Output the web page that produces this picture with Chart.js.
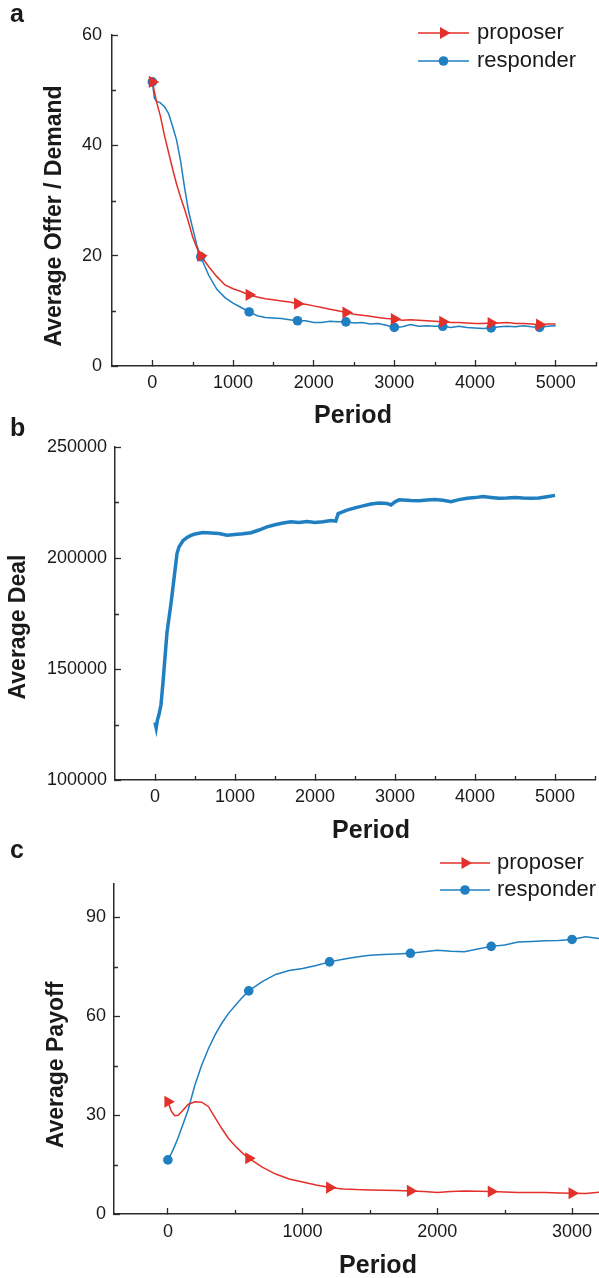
<!DOCTYPE html>
<html>
<head>
<meta charset="utf-8">
<title>Average offer / demand, deal and payoff</title>
<script src="https://cdn.jsdelivr.net/npm/chart.js@4.4.1/dist/chart.umd.min.js"></script>
<style>
  html, body { margin: 0; padding: 0; background: #fff; }
  #page { position: relative; width: 599px; height: 1278px; overflow: hidden; }
  #page canvas { position: absolute; left: 0; }
</style>
</head>
<body>
<div id="page">
  <canvas id="chartA" width="599" height="430" style="top:0px"></canvas>
  <canvas id="chartB" width="599" height="440" style="top:410px"></canvas>
  <canvas id="chartC" width="599" height="443" style="top:835px"></canvas>
</div>
<script>
const RED = '#e3302a';
const BLUE = '#1f7fc1';
const AXIS = '#2b2b2b';
const INK = '#1a1a1a';
const FONT = '"Liberation Sans", Arial, Helvetica, sans-serif';

// ===== Panel a: average offer / demand =====
const aPeriods = [0, 25, 50, 100, 150, 200, 250, 300, 350, 400, 450, 500, 550, 600,
  700, 800, 900, 1000, 1100, 1200, 1300, 1400, 1500, 1600, 1700, 1800, 1900, 2000,
  2100, 2200, 2300, 2400, 2500, 2600, 2700, 2800, 2900, 3000, 3100, 3200, 3300, 3400,
  3500, 3600, 3700, 3800, 3900, 4000, 4100, 4200, 4300, 4400, 4500, 4600, 4700, 4800, 4900, 5000];
const aProposer = [51.5, 49.8, 48.0, 45.3, 41.8, 38.8, 35.8, 33.0, 30.6, 28.4, 26.0, 23.4, 21.5, 20.0,
  18.0, 16.2, 14.7, 14.0, 13.5, 12.9, 12.5, 12.2, 12.0, 11.8, 11.6, 11.3, 11.2, 10.9,
  10.6, 10.3, 10.0, 9.7, 9.4, 9.2, 9.0, 8.8, 8.6, 8.5, 8.3, 8.4, 8.3, 8.2,
  8.1, 8.0, 7.9, 7.9, 7.8, 7.7, 7.7, 7.8, 7.8, 7.9, 7.7, 7.7, 7.6, 7.5, 7.6, 7.6];
const aResponder = [51.5, 48.6, 48.0, 47.7, 47.0, 45.8, 43.5, 41.0, 37.2, 32.3, 28.0, 25.0, 22.0, 19.8,
  16.4, 13.9, 12.4, 11.4, 10.6, 9.8, 9.1, 8.8, 8.7, 8.6, 8.4, 8.2, 8.2, 7.9,
  7.9, 8.1, 8.0, 8.0, 7.8, 7.9, 7.6, 7.7, 7.4, 7.0, 7.1, 7.5, 7.2, 7.3,
  7.2, 7.2, 7.0, 7.2, 7.0, 6.9, 6.8, 6.9, 7.1, 7.2, 7.1, 7.3, 7.1, 7.0, 7.2, 7.3];
const aXTicks = [0, 1000, 2000, 3000, 4000, 5000];
const aXMinor = [500, 1500, 2500, 3500, 4500, 5500];
const aYTicks = [0, 20, 40, 60];
const aYMinor = [10, 30, 50];

// ===== Panel b: average deal =====
const bPeriods = [0, 15, 30, 50, 75, 100, 150, 200, 250, 275, 300, 350, 400, 450, 500,
  600, 700, 800, 900, 1000, 1100, 1200, 1300, 1400, 1500, 1600, 1700, 1800, 1900, 2000,
  2100, 2200, 2260, 2290, 2400, 2500, 2600, 2700, 2800, 2900, 2950, 3000, 3050, 3100,
  3200, 3300, 3400, 3500, 3600, 3700, 3800, 3900, 4000, 4100, 4200, 4300, 4400, 4500,
  4600, 4700, 4800, 4900, 5000];
const bDeal = [126000, 123500, 127000, 129500, 134000, 144000, 166500, 179500, 194500, 202000, 205000, 207800, 209200, 210200, 210800,
  211500, 211300, 211000, 210300, 210600, 210900, 211400, 212600, 214000, 215000, 215800, 216300, 216000, 216400, 216000,
  216300, 216900, 216600, 220000, 221600, 222600, 223500, 224300, 224800, 224600, 223900, 225300, 226200, 226100,
  225900, 225800, 226100, 226300, 226000, 225400, 226300, 226900, 227200, 227700, 227300, 226900, 227000, 227200,
  227000, 226900, 227000, 227600, 228200];
const bXTicks = [0, 1000, 2000, 3000, 4000, 5000];
const bXMinor = [500, 1500, 2500, 3500, 4500, 5500];
const bYTicks = [100000, 150000, 200000, 250000];
const bYMinor = [125000, 175000, 225000];

// ===== Panel c: average payoff =====
const cPeriods = [0, 25, 50, 75, 100, 150, 200, 250, 300, 350, 400, 450, 500, 550, 600,
  700, 800, 900, 1000, 1100, 1200, 1300, 1400, 1500, 1600, 1700, 1800, 1900, 2000,
  2100, 2200, 2300, 2400, 2500, 2600, 2700, 2800, 2900, 3000, 3100, 3200];
const cProposer = [34.0, 31.2, 29.8, 29.9, 30.9, 33.2, 34.0, 33.9, 32.6, 29.2, 25.9, 22.9, 20.6, 18.6, 16.9,
  14.2, 12.1, 10.6, 9.7, 8.8, 8.0, 7.6, 7.4, 7.3, 7.2, 7.1, 7.0, 6.8, 6.5,
  6.8, 7.0, 6.9, 6.8, 6.7, 6.5, 6.5, 6.5, 6.4, 6.3, 6.2, 6.6];
const cResponder = [16.4, 18.3, 20.5, 23.0, 25.8, 31.5, 39.0, 45.0, 50.0, 54.3, 57.8, 60.8, 63.2, 65.5, 67.6,
  70.4, 72.6, 73.8, 74.4, 75.3, 76.4, 77.2, 77.9, 78.4, 78.6, 78.8, 79.0, 79.5, 79.9,
  79.6, 79.5, 80.3, 81.1, 81.5, 82.4, 82.6, 82.8, 82.9, 83.2, 84.0, 83.5];
const cXTicks = [0, 1000, 2000, 3000];
const cXMinor = [500, 1500, 2500];
const cYTicks = [0, 30, 60, 90];
const cYMinor = [15, 45, 75];

const MARKER_EVERY = 600;

function pts(xs, ys) {
  return xs.map((x, i) => ({ x: x, y: ys[i] }));
}

// markers only every 600 periods, like the original plot
function markerRadius(r) {
  return ctx => (ctx.raw && ctx.raw.x % MARKER_EVERY === 0) ? r : 0;
}

function proposerSet(xs, ys) {
  return {
    label: 'proposer', data: pts(xs, ys),
    borderColor: RED, backgroundColor: RED, borderWidth: 1.5,
    pointStyle: 'triangle', pointRotation: 90, legendRadius: 7,
    pointRadius: markerRadius(7), pointBackgroundColor: RED, pointBorderWidth: 0,
    tension: 0
  };
}

function responderSet(xs, ys) {
  return {
    label: 'responder', data: pts(xs, ys),
    borderColor: BLUE, backgroundColor: BLUE, borderWidth: 1.5,
    pointStyle: 'circle', pointRotation: 0, legendRadius: 4.8,
    pointRadius: markerRadius(4.8), pointBackgroundColor: BLUE, pointBorderWidth: 0,
    tension: 0
  };
}

// short inward minor ticks
const minorTicks = {
  id: 'minorTicks',
  afterDraw(chart, args, opts) {
    const { ctx, chartArea } = chart;
    const sx = chart.scales.x, sy = chart.scales.y;
    ctx.save();
    ctx.strokeStyle = AXIS;
    ctx.lineWidth = 1.3;
    ctx.beginPath();
    (opts.x || []).forEach(v => {
      const px = Math.round(sx.getPixelForValue(v)) + 0.5;
      ctx.moveTo(px, chartArea.bottom);
      ctx.lineTo(px, chartArea.bottom - 4);
    });
    (opts.y || []).forEach(v => {
      const py = Math.round(sy.getPixelForValue(v)) + 0.5;
      ctx.moveTo(chartArea.left, py);
      ctx.lineTo(chartArea.left + 4, py);
    });
    ctx.stroke();
    ctx.restore();
  }
};

// legend drawn as line + marker + label inside the plot
const lineLegend = {
  id: 'lineLegend',
  afterDraw(chart, args, opts) {
    if (opts.x === undefined) return;
    const { ctx } = chart;
    chart.data.datasets.forEach((ds, i) => {
      const y = opts.y + i * opts.gap;
      ctx.save();
      ctx.strokeStyle = ds.borderColor;
      ctx.lineWidth = 1.5;
      ctx.beginPath();
      ctx.moveTo(opts.x, y);
      ctx.lineTo(opts.x + opts.len, y);
      ctx.stroke();
      ctx.fillStyle = ds.borderColor;
      Chart.helpers.drawPoint(ctx, {
        pointStyle: ds.pointStyle, rotation: ds.pointRotation, radius: ds.legendRadius, borderWidth: 0
      }, opts.x + opts.len / 2, y);
      ctx.fillStyle = INK;
      ctx.font = `${opts.size}px ${FONT}`;
      ctx.textAlign = 'left';
      ctx.textBaseline = 'alphabetic';
      ctx.fillText(ds.label, opts.textX, y + 6);
      ctx.restore();
    });
  }
};

// panel letters and axis titles
const textLayer = {
  id: 'textLayer',
  afterDraw(chart, args, opts) {
    const { ctx } = chart;
    (opts.items || []).forEach(it => {
      ctx.save();
      ctx.font = `bold ${it.size}px ${FONT}`;
      ctx.fillStyle = INK;
      ctx.textBaseline = 'alphabetic';
      ctx.textAlign = it.align || 'center';
      ctx.translate(it.x, it.y);
      if (it.rot) ctx.rotate(-Math.PI / 2);
      ctx.fillText(it.text, 0, 0);
      ctx.restore();
    });
  }
};

function axis(kind, s) {
  return {
    type: 'linear', min: s.min, max: s.max,
    afterBuildTicks: sc => { sc.ticks = s.ticks.map(v => ({ value: v })); },
    afterFit: sc => {
      // fixed box sizes so the plot area sits where the original one does
      if (kind === 'x') sc.height = s.size; else sc.width = s.size;
      sc.paddingLeft = 0; sc.paddingRight = 0; sc.paddingTop = 0; sc.paddingBottom = 0;
    },
    grid: { drawOnChartArea: false, drawTicks: true, tickLength: -6, tickWidth: 1.3, tickColor: AXIS },
    border: { display: true, color: AXIS, width: 1.5 },
    ticks: {
      color: INK, font: { family: FONT, size: 18 }, padding: s.pad,
      autoSkip: false, maxRotation: 0, minRotation: 0, callback: v => String(v)
    }
  };
}

function makeChart(id, o) {
  return new Chart(document.getElementById(id), {
    type: 'line',
    data: { datasets: o.datasets },
    options: {
      responsive: false, animation: false, events: [], devicePixelRatio: 1,
      layout: { padding: o.padding, autoPadding: false },
      scales: { x: axis('x', o.x), y: axis('y', o.y) },
      plugins: {
        legend: { display: false }, tooltip: { enabled: false },
        minorTicks: { x: o.x.minor, y: o.y.minor },
        lineLegend: o.legend || {},
        textLayer: { items: o.texts }
      }
    },
    plugins: [minorTicks, lineLegend, textLayer]
  });
}

makeChart('chartA', {
  datasets: [proposerSet(aPeriods, aProposer), responderSet(aPeriods, aResponder)],
  padding: { left: 0, right: 3, top: 35, bottom: 0 },
  x: { min: -500, max: 5500, ticks: aXTicks, minor: aXMinor, size: 64, pad: 12 },
  y: { min: 0, max: 60, ticks: aYTicks, minor: aYMinor, size: 112, pad: 16 },
  legend: { x: 418, y: 33, gap: 28, len: 51, textX: 477, size: 22 },
  texts: [
    { text: 'a', x: 10, y: 22, size: 25, align: 'left' },
    { text: 'Period', x: 353, y: 423, size: 25 },
    { text: 'Average Offer / Demand', x: 61, y: 216, size: 23, rot: true }
  ]
});

makeChart('chartB', {
  datasets: [{
    label: 'deal', data: pts(bPeriods, bDeal),
    borderColor: BLUE, borderWidth: 3.5, pointRadius: 0, tension: 0
  }],
  padding: { left: 0, right: 4, top: 37, bottom: 0 },
  x: { min: -500, max: 5500, ticks: bXTicks, minor: bXMinor, size: 70, pad: 12 },
  y: { min: 100000, max: 250000, ticks: bYTicks, minor: bYMinor, size: 115, pad: 14 },
  texts: [
    { text: 'b', x: 10, y: 26, size: 25, align: 'left' },
    { text: 'Period', x: 371, y: 428, size: 25 },
    { text: 'Average Deal', x: 25, y: 217, size: 23, rot: true }
  ]
});

makeChart('chartC', {
  datasets: [proposerSet(cPeriods, cProposer), responderSet(cPeriods, cResponder)],
  padding: { left: 0, right: 0, top: 49, bottom: 0 },
  x: { min: -400, max: 3200, ticks: cXTicks, minor: cXMinor, size: 64, pad: 13 },
  y: { min: 0, max: 100, ticks: cYTicks, minor: cYMinor, size: 114, pad: 14 },
  legend: { x: 440, y: 28, gap: 27, len: 50, textX: 497, size: 22 },
  texts: [
    { text: 'c', x: 10, y: 23, size: 25, align: 'left' },
    { text: 'Period', x: 378, y: 438, size: 25 },
    { text: 'Average Payoff', x: 63, y: 230, size: 23, rot: true }
  ]
});
</script>
</body>
</html>
